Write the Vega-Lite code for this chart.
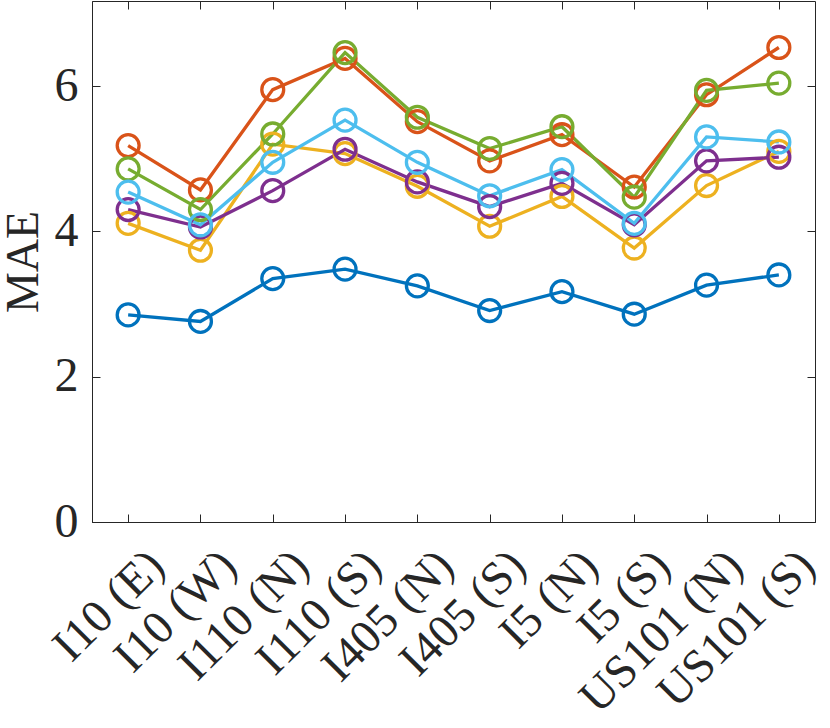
{
  "$schema": "https://vega.github.io/schema/vega-lite/v6.json",
  "width": 723,
  "height": 521,
  "autosize": {"type": "none"},
  "padding": {"left": 92, "top": 1, "right": 15, "bottom": 206},
  "background": "white",
  "data": {
    "values": [
      {"road": "I10 (E)", "series": "s1", "mae": 2.85},
      {"road": "I10 (W)", "series": "s1", "mae": 2.76},
      {"road": "I110 (N)", "series": "s1", "mae": 3.35},
      {"road": "I110 (S)", "series": "s1", "mae": 3.48},
      {"road": "I405 (N)", "series": "s1", "mae": 3.25},
      {"road": "I405 (S)", "series": "s1", "mae": 2.91},
      {"road": "I5 (N)", "series": "s1", "mae": 3.17},
      {"road": "I5 (S)", "series": "s1", "mae": 2.86},
      {"road": "US101 (N)", "series": "s1", "mae": 3.26},
      {"road": "US101 (S)", "series": "s1", "mae": 3.40},
      {"road": "I10 (E)", "series": "s2", "mae": 5.18},
      {"road": "I10 (W)", "series": "s2", "mae": 4.57},
      {"road": "I110 (N)", "series": "s2", "mae": 5.95},
      {"road": "I110 (S)", "series": "s2", "mae": 6.38},
      {"road": "I405 (N)", "series": "s2", "mae": 5.51},
      {"road": "I405 (S)", "series": "s2", "mae": 4.97},
      {"road": "I5 (N)", "series": "s2", "mae": 5.33},
      {"road": "I5 (S)", "series": "s2", "mae": 4.61},
      {"road": "US101 (N)", "series": "s2", "mae": 5.88},
      {"road": "US101 (S)", "series": "s2", "mae": 6.53},
      {"road": "I10 (E)", "series": "s3", "mae": 4.11},
      {"road": "I10 (W)", "series": "s3", "mae": 3.74},
      {"road": "I110 (N)", "series": "s3", "mae": 5.20},
      {"road": "I110 (S)", "series": "s3", "mae": 5.07},
      {"road": "I405 (N)", "series": "s3", "mae": 4.62},
      {"road": "I405 (S)", "series": "s3", "mae": 4.07},
      {"road": "I5 (N)", "series": "s3", "mae": 4.48},
      {"road": "I5 (S)", "series": "s3", "mae": 3.77},
      {"road": "US101 (N)", "series": "s3", "mae": 4.63},
      {"road": "US101 (S)", "series": "s3", "mae": 5.10},
      {"road": "I10 (E)", "series": "s4", "mae": 4.30},
      {"road": "I10 (W)", "series": "s4", "mae": 4.06},
      {"road": "I110 (N)", "series": "s4", "mae": 4.56},
      {"road": "I110 (S)", "series": "s4", "mae": 5.13},
      {"road": "I405 (N)", "series": "s4", "mae": 4.68},
      {"road": "I405 (S)", "series": "s4", "mae": 4.34},
      {"road": "I5 (N)", "series": "s4", "mae": 4.66},
      {"road": "I5 (S)", "series": "s4", "mae": 4.09},
      {"road": "US101 (N)", "series": "s4", "mae": 4.97},
      {"road": "US101 (S)", "series": "s4", "mae": 5.02},
      {"road": "I10 (E)", "series": "s5", "mae": 4.86},
      {"road": "I10 (W)", "series": "s5", "mae": 4.30},
      {"road": "I110 (N)", "series": "s5", "mae": 5.34},
      {"road": "I110 (S)", "series": "s5", "mae": 6.46},
      {"road": "I405 (N)", "series": "s5", "mae": 5.57},
      {"road": "I405 (S)", "series": "s5", "mae": 5.14},
      {"road": "I5 (N)", "series": "s5", "mae": 5.44},
      {"road": "I5 (S)", "series": "s5", "mae": 4.47},
      {"road": "US101 (N)", "series": "s5", "mae": 5.94},
      {"road": "US101 (S)", "series": "s5", "mae": 6.04},
      {"road": "I10 (E)", "series": "s6", "mae": 4.54},
      {"road": "I10 (W)", "series": "s6", "mae": 4.09},
      {"road": "I110 (N)", "series": "s6", "mae": 4.95},
      {"road": "I110 (S)", "series": "s6", "mae": 5.53},
      {"road": "I405 (N)", "series": "s6", "mae": 4.95},
      {"road": "I405 (S)", "series": "s6", "mae": 4.49},
      {"road": "I5 (N)", "series": "s6", "mae": 4.85},
      {"road": "I5 (S)", "series": "s6", "mae": 4.11},
      {"road": "US101 (N)", "series": "s6", "mae": 5.30},
      {"road": "US101 (S)", "series": "s6", "mae": 5.23}
    ]
  },
  "encoding": {
    "x": {
      "field": "road",
      "type": "ordinal",
      "sort": null,
      "scale": {"type": "point", "padding": 0.5}
    },
    "y": {
      "field": "mae",
      "type": "quantitative",
      "scale": {"domain": [0, 7.17], "nice": false, "zero": true}
    },
    "color": {
      "field": "series",
      "type": "nominal",
      "legend": null,
      "scale": {
        "domain": ["s1", "s2", "s3", "s4", "s5", "s6"],
        "range": ["#0072BD", "#D95319", "#EDB120", "#7E2F8E", "#77AC30", "#4DBEEE"]
      }
    }
  },
  "layer": [
    {
      "mark": {"type": "line", "strokeWidth": 3.3},
      "encoding": {
        "x": {
          "field": "road",
          "type": "ordinal",
          "sort": null,
          "axis": {
            "orient": "bottom",
            "title": null,
            "labelAngle": -45,
            "labelAlign": "right",
            "labelBaseline": "middle",
            "labelFont": "Liberation Serif",
            "labelFontSize": 47,
            "labelColor": "#262626",
            "labelPadding": 44,
            "labelOffset": 28,
            "labelLimit": 0,
            "labelOverlap": false,
            "tickSize": -8,
            "tickColor": "#262626",
            "domainColor": "#262626",
            "grid": false
          }
        },
        "y": {
          "field": "mae",
          "type": "quantitative",
          "axis": {
            "orient": "left",
            "title": "MAE",
            "titleFont": "Liberation Serif",
            "titleFontSize": 46,
            "titleFontWeight": "normal",
            "titleColor": "#262626",
            "titleX": -55,
            "titleBaseline": "alphabetic",
            "values": [0, 2, 4, 6],
            "labelFont": "Liberation Serif",
            "labelFontSize": 48,
            "labelColor": "#262626",
            "labelPadding": 22,
            "tickSize": -8,
            "tickColor": "#262626",
            "domainColor": "#262626",
            "grid": false
          }
        }
      }
    },
    {
      "mark": {"type": "point", "shape": "circle", "filled": false, "size": 480, "strokeWidth": 3.3, "opacity": 1},
      "encoding": {
        "x": {
          "field": "road",
          "type": "ordinal",
          "sort": null,
          "axis": {
            "orient": "top",
            "title": null,
            "labels": false,
            "domain": false,
            "tickSize": -8,
            "tickColor": "#262626",
            "grid": false
          }
        },
        "y": {
          "field": "mae",
          "type": "quantitative",
          "axis": {
            "orient": "right",
            "title": null,
            "labels": false,
            "domain": false,
            "values": [0, 2, 4, 6],
            "tickSize": -8,
            "tickColor": "#262626",
            "grid": false
          }
        }
      }
    }
  ],
  "resolve": {"axis": {"x": "independent", "y": "independent"}},
  "config": {
    "view": {"stroke": "#262626", "strokeWidth": 1}
  }
}
